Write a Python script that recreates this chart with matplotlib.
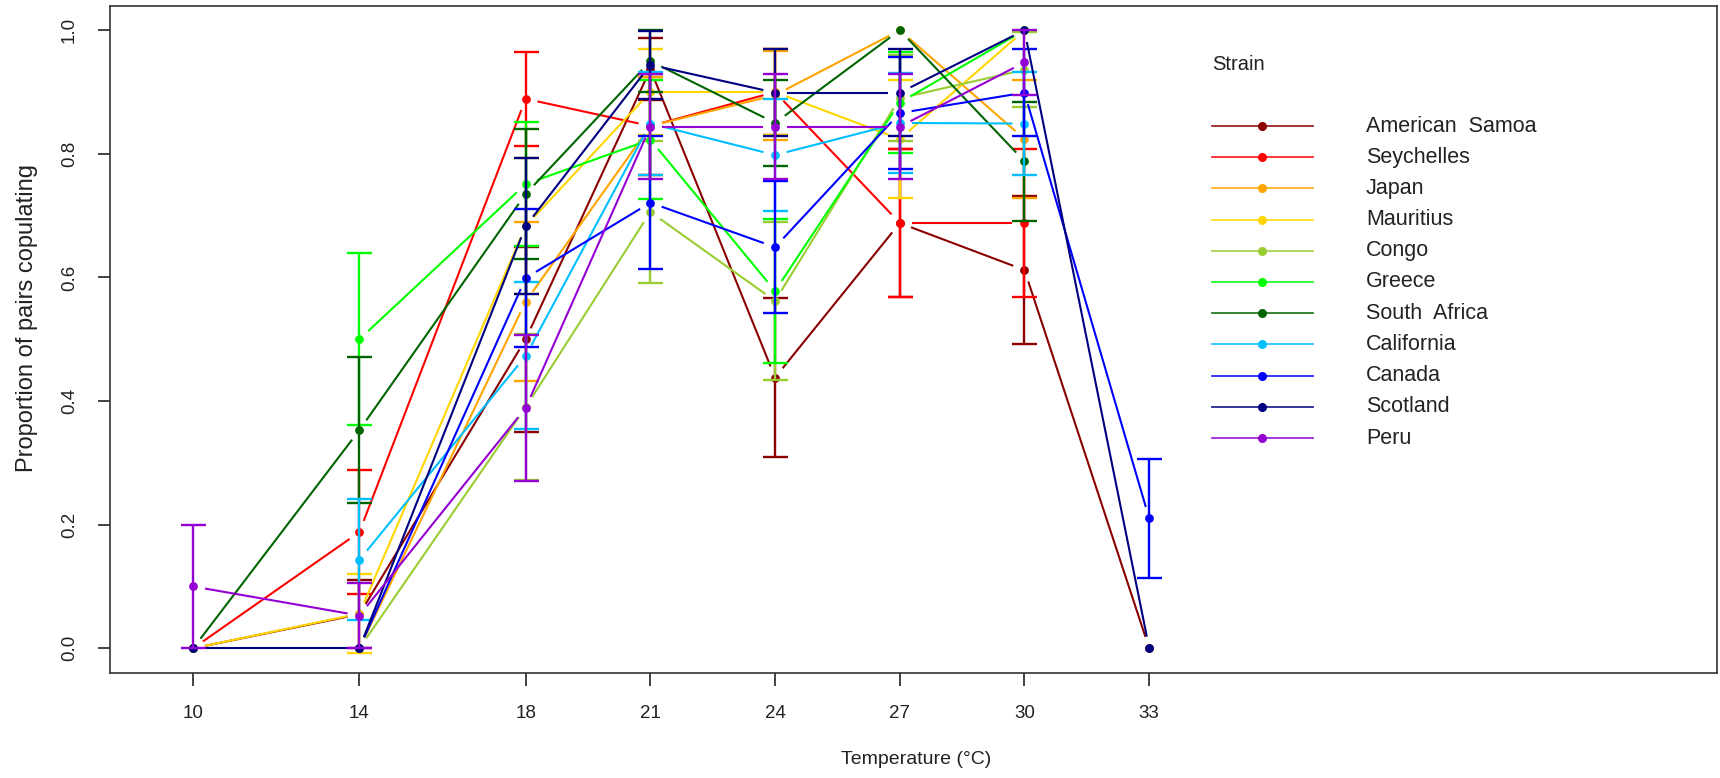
import numpy as np
import matplotlib
matplotlib.use("Agg")
import matplotlib.pyplot as plt
from matplotlib.lines import Line2D

# ---------------- data ----------------
temps = [10, 14, 18, 21, 24, 27, 30, 33]
strains = ["American  Samoa", "Seychelles", "Japan", "Mauritius", "Congo", "Greece",
           "South  Africa", "California", "Canada", "Scotland", "Peru"]
colors = ["#8B0000", "#FF0000", "#FFA500", "#FFD700", "#9ACD32", "#00FF00",
          "#006400", "#00BFFF", "#0000FF", "#000080", "#9400D3"]
nan = np.nan

am_samoa   = [0.0,   0.055, 0.500, 0.937, 0.438, 0.688, 0.612, 0.0]
seychelles = [0.0,   0.188, 0.889, 0.845, 0.900, 0.688, 0.688, nan]
japan      = [nan,   0.0,   0.561, 0.845, 0.895, 1.000, 0.824, nan]
mauritius  = [0.0,   0.056, 0.683, 0.900, 0.900, 0.824, 1.000, nan]
congo      = [nan,   0.0,   0.390, 0.706, 0.562, 0.890, 0.936, nan]
greece     = [nan,   0.500, 0.751, 0.823, 0.578, 0.883, 1.000, nan]
s_africa   = [0.0,   0.353, 0.735, 0.950, 0.850, 1.000, 0.788, nan]
california = [nan,   0.143, 0.473, 0.849, 0.798, 0.850, 0.849, nan]
canada     = [nan,   0.0,   0.599, 0.721, 0.649, 0.866, 0.899, 0.210]
scotland   = [0.0,   0.0,   0.683, 0.944, 0.899, 0.899, 1.000, 0.0]
peru       = [0.100, 0.053, 0.389, 0.844, 0.844, 0.844, 0.948, nan]

# standard errors
am_samoa_se   = [0.0,   0.055, 0.150, 0.050, 0.128, 0.120, 0.119, 0.0]
seychelles_se = [0.0,   0.100, 0.076, 0.080, 0.070, 0.120, 0.120, nan]
japan_se      = [nan,   0.0,   0.128, 0.080, 0.072, 0.0,   0.095, nan]
mauritius_se  = [0.0,   0.064, 0.110, 0.070, 0.070, 0.096, 0.0,   nan]
congo_se      = [nan,   0.0,   0.118, 0.115, 0.128, 0.070, 0.061, nan]
greece_se     = [nan,   0.139, 0.100, 0.096, 0.117, 0.082, 0.0,   nan]
s_africa_se   = [0.0,   0.118, 0.105, 0.050, 0.070, 0.0,   0.096, nan]
california_se = [nan,   0.098, 0.119, 0.083, 0.090, 0.081, 0.083, nan]
canada_se     = [nan,   0.0,   0.112, 0.108, 0.107, 0.090, 0.070, 0.096]
scotland_se   = [0.0,   0.0,   0.110, 0.055, 0.070, 0.070, 0.0,   0.0]
peru_se       = [0.100, 0.053, 0.118, 0.085, 0.085, 0.085, 0.053, nan]

values = [am_samoa, seychelles, japan, mauritius, congo, greece, s_africa,
          california, canada, scotland, peru]
errors = [am_samoa_se, seychelles_se, japan_se, mauritius_se, congo_se, greece_se,
          s_africa_se, california_se, canada_se, scotland_se, peru_se]

yticks = [0.0, 0.2, 0.4, 0.6, 0.8, 1.0]

# ---------------- figure ----------------
W, H = 1720, 778
plt.rcParams['font.family'] = ['Liberation Sans', 'DejaVu Sans']
fig = plt.figure(figsize=(W / 100, H / 100), dpi=100)

def fx(px):
    return px / W

def fy(py):
    return 1 - py / H

L, R, T, B = 110, 1717, 5.5, 673
ax = fig.add_axes([fx(L), fy(B), fx(R) - fx(L), fy(T) - fy(B)])
ax.set_xlim(8.0, 46.66)
ax.set_ylim(-0.04, 1.04)

for s in ax.spines.values():
    s.set_linewidth(1.2)
    s.set_color("#333333")

ax.set_xticks(temps)
ax.set_xticklabels([str(t) for t in temps])
ax.set_yticks(yticks)
ax.set_yticklabels([f"{v:.1f}" for v in yticks], rotation=90, va="center")
ax.tick_params(axis="both", direction="out", length=9, width=1.2, colors="#222222",
               labelsize=13.5, labelcolor="#222222")
ax.tick_params(axis="x", pad=14)
ax.tick_params(axis="y", pad=14)

fig.text(fx(916), fy(759), "Temperature (\u00b0C)", ha="center", va="center",
         fontsize=14, color="#222222")
fig.text(fx(27), fy(318), "Proportion of pairs copulating", ha="center", va="center",
         rotation=90, fontsize=17, color="#222222")

fig.canvas.draw()
trans = ax.transData
inv = trans.inverted()
GAP = 12.0  # px gap around points as in R type="b"

for i, (vals, errs, col) in enumerate(zip(values, errors, colors)):
    z = 3 + i * 0.05
    x = np.array(temps, dtype=float)
    y = np.array(vals, dtype=float)
    e = np.array(errs, dtype=float)
    ok = ~np.isnan(y)
    # line segments with gaps
    for k in range(len(x) - 1):
        if ok[k] and ok[k + 1]:
            p0 = trans.transform((x[k], y[k]))
            p1 = trans.transform((x[k + 1], y[k + 1]))
            d = p1 - p0
            Ld = np.hypot(*d)
            if Ld > 2 * GAP:
                a = p0 + d * GAP / Ld
                b = p1 - d * GAP / Ld
                da = inv.transform(a)
                db = inv.transform(b)
                ax.plot([da[0], db[0]], [da[1], db[1]], color=col, lw=1.5,
                        solid_capstyle="butt", zorder=z)
    ax.plot(x[ok], y[ok], linestyle="none", marker="o", markersize=6.3,
            color=col, markeredgewidth=0, zorder=z + 0.01)
    m = ok & ~np.isnan(e) & (e > 0)
    ax.errorbar(x[m], y[m], yerr=e[m], fmt="none", ecolor=col, elinewidth=1.7,
                capsize=9, capthick=1.7, zorder=z + 0.02)

# ---------------- legend ----------------
fig.text(fx(1212), fy(65), "Strain", ha="left", va="center", fontsize=14.5, color="#222222")
for i, (name, col) in enumerate(zip(strains, colors)):
    yy = 126 + i * 31.2
    fig.add_artist(Line2D([fx(1212), fx(1313)], [fy(yy), fy(yy)], transform=fig.transFigure,
                          color=col, lw=1.3, alpha=0.85))
    fig.add_artist(Line2D([fx(1262)], [fy(yy)], transform=fig.transFigure,
                          color=col, marker="o", markersize=6.5, markeredgewidth=0))
    fig.text(fx(1366), fy(yy), name, ha="left", va="center", fontsize=15.5, color="#222222")

fig.savefig("out.png", dpi=100)
